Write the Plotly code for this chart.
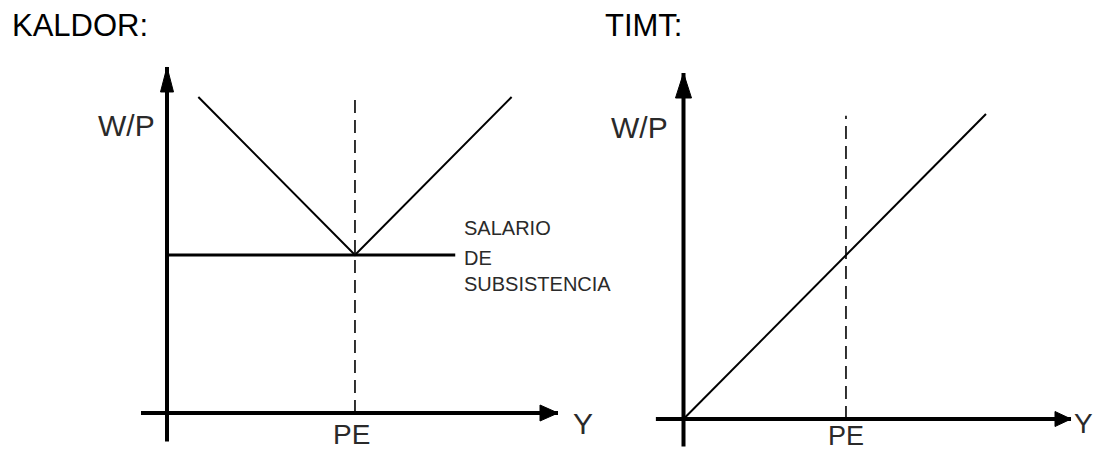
import plotly.graph_objects as go

# ---------------- data (diagram units) ----------------
PE = 6
# KALDOR panel
kaldor_v_x = [1, 6, 11]
kaldor_v_y = [10, 5, 10]
subsist_x = [-0.06, 9.2]
subsist_y = [5, 5]
kaldor_dash_top = 10
kaldor_xaxis = [-0.83, 12.48]
kaldor_yaxis = [-0.9, 10.95]
subsist_label = ["SALARIO", "DE", "SUBSISTENCIA"]

# TIMT panel
timt_line_x = [0, 11.17]
timt_line_y = [0, 11.16]
timt_dash_top = 11.1
timt_xaxis = [-1.02, 14.31]
timt_yaxis = [-1.01, 12.66]

titles = ["KALDOR:", "TIMT:"]
y_label = "W/P"
x_label = "Y"
pe_label = "PE"

# ---------------- layout geometry (pixels) ----------------
W, H = 1099, 450
SPLIT = 0.55
L_ox, L_oy, L_sx, L_sy = 167.0, 413.0, 31.33, 31.6
R_ox, R_oy, R_sx, R_sy = 683.5, 419.0, 27.08, 27.33

def xr(ox, sx, p0, p1):
    return [(p0 - ox) / sx, (p1 - ox) / sx]

def yr(oy, sy):
    return [(oy - H) / sy, oy / sy]

FONT = "Liberation Sans, Arial, sans-serif"
fig = go.Figure()

# KALDOR curves
fig.add_trace(go.Scatter(x=kaldor_v_x, y=kaldor_v_y, mode="lines",
                         line=dict(color="black", width=2), xaxis="x", yaxis="y"))
fig.add_trace(go.Scatter(x=subsist_x, y=subsist_y, mode="lines",
                         line=dict(color="black", width=3), xaxis="x", yaxis="y"))
fig.add_trace(go.Scatter(x=[PE, PE], y=[0, kaldor_dash_top], mode="lines",
                         line=dict(color="black", width=1.6, dash="13px,7px"),
                         xaxis="x", yaxis="y"))
# TIMT curves
fig.add_trace(go.Scatter(x=timt_line_x, y=timt_line_y, mode="lines",
                         line=dict(color="black", width=2), xaxis="x2", yaxis="y2"))
fig.add_trace(go.Scatter(x=[PE, PE], y=[0, timt_dash_top], mode="lines",
                         line=dict(color="black", width=1.6, dash="13px,7px"),
                         xaxis="x2", yaxis="y2"))

shapes = []
def axes(xref, yref, xa, ya, up_len, up_w, rt_len, rt_w):
    shapes.append(dict(type="line", xref=xref, yref=yref, x0=xa[0], x1=xa[1], y0=0, y1=0,
                       line=dict(color="black", width=4)))
    shapes.append(dict(type="line", xref=xref, yref=yref, x0=0, x1=0, y0=ya[0], y1=ya[1],
                       line=dict(color="black", width=4)))
    shapes.append(dict(type="path", xref=xref, yref=yref, xsizemode="pixel", ysizemode="pixel",
                       xanchor=0, yanchor=ya[1],
                       path=f"M0,0 L{-up_w/2},{-up_len} L{up_w/2},{-up_len} Z",
                       fillcolor="black", line=dict(color="black", width=1)))
    shapes.append(dict(type="path", xref=xref, yref=yref, xsizemode="pixel", ysizemode="pixel",
                       xanchor=xa[1], yanchor=0,
                       path=f"M0,0 L{-rt_len},{rt_w/2} L{-rt_len},{-rt_w/2} Z",
                       fillcolor="black", line=dict(color="black", width=1)))

axes("x", "y", kaldor_xaxis, kaldor_yaxis, 25, 13, 18, 16)
axes("x2", "y2", timt_xaxis, timt_yaxis, 25, 16, 16, 15)

LAB = "#2a2a2a"
ann = []
ann.append(dict(xref="paper", yref="paper", x=10 / W, y=1 - 25 / H, xanchor="left", yanchor="middle",
                text=titles[0], showarrow=False, font=dict(family=FONT, size=31, color="black")))
ann.append(dict(xref="paper", yref="paper", x=603 / W, y=1 - 25 / H, xanchor="left", yanchor="middle",
                text=titles[1], showarrow=False, font=dict(family=FONT, size=31, color="black")))
# left panel labels
ann.append(dict(xref="x", yref="y", x=-1.28, y=9.1, text=y_label, showarrow=False,
                font=dict(family=FONT, size=30, color=LAB)))
ann.append(dict(xref="x", yref="y", x=PE - 0.1, y=-0.68, text=pe_label, showarrow=False,
                borderpad=0, font=dict(family=FONT, size=28, color=LAB)))
ann.append(dict(xref="x", yref="y", x=13.29, y=-0.33, text=x_label, showarrow=False,
                font=dict(family=FONT, size=30, color=LAB)))
for txt, yy in zip(subsist_label, [5.87, 4.92, 4.08]):
    ann.append(dict(xref="x", yref="y", x=9.43, y=yy, xanchor="left", text=txt, showarrow=False,
                    font=dict(family=FONT, size=20, color=LAB)))
# right panel labels
ann.append(dict(xref="x2", yref="y2", x=-1.61, y=10.65, text=y_label, showarrow=False,
                font=dict(family=FONT, size=30, color=LAB)))
ann.append(dict(xref="x2", yref="y2", x=PE, y=-0.62, text=pe_label, showarrow=False,
                borderpad=0, font=dict(family=FONT, size=27, color=LAB)))
ann.append(dict(xref="x2", yref="y2", x=15.15, y=-0.15, xanchor="right", text=x_label, showarrow=False,
                borderpad=0, font=dict(family=FONT, size=28, color=LAB)))

fig.update_layout(
    width=W, height=H, margin=dict(l=0, r=0, t=0, b=0),
    paper_bgcolor="white", plot_bgcolor="white", showlegend=False,
    xaxis=dict(domain=[0, SPLIT], range=xr(L_ox, L_sx, 0, SPLIT * W), visible=False, fixedrange=True),
    yaxis=dict(domain=[0, 1], range=yr(L_oy, L_sy), visible=False, fixedrange=True),
    xaxis2=dict(domain=[SPLIT, 1], range=xr(R_ox, R_sx, SPLIT * W, W), visible=False, fixedrange=True),
    yaxis2=dict(domain=[0, 1], range=yr(R_oy, R_sy), visible=False, fixedrange=True, anchor="x2"),
    shapes=shapes, annotations=ann,
)
fig.write_html("out.html", config={"displayModeBar": False},
               post_script="document.body.style.margin='0px';document.body.style.overflow='hidden';")
